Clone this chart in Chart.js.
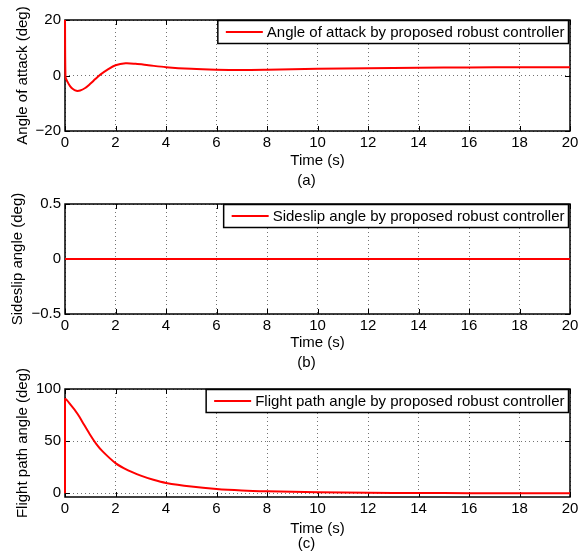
<!DOCTYPE html>
<html>
<head>
<meta charset="utf-8">
<script src="https://cdn.jsdelivr.net/npm/chart.js@4/dist/chart.umd.min.js"></script>
<style>
  html, body { margin: 0; padding: 0; background: #fff; }
  #wrap { position: relative; width: 588px; height: 553px; }
  canvas { position: absolute; left: 0; top: 0; }
</style>
</head>
<body>
<div id="wrap">
  <canvas id="cA" width="588" height="553"></canvas>
  <canvas id="cB" width="588" height="553"></canvas>
  <canvas id="cC" width="588" height="553"></canvas>
</div>
<script>
// Data
const timeTicks = [0, 2, 4, 6, 8, 10, 12, 14, 16, 18, 20];

const alphaTime = [0, 0.02, 0.1, 0.2, 0.3, 0.45, 0.6, 0.8, 1.0, 1.2, 1.4, 1.7, 2.0, 2.4, 2.8, 3.3, 4, 5, 6, 7, 8, 10, 12, 14, 16, 18, 20];
const alphaDeg  = [20, -0.5, -2.3, -3.8, -4.8, -5.5, -5.4, -4.5, -3.0, -1.3, 0.3, 2.2, 3.7, 4.4, 4.2, 3.7, 3.0, 2.4, 2.1, 2.0, 2.1, 2.4, 2.6, 2.8, 2.9, 3.0, 3.0];
const alphaTicks = [-20, 0, 20];

const betaTime = [0, 5, 10, 15, 20];
const betaDeg  = [0, 0, 0, 0, 0];
const betaTicks = [-0.5, 0, 0.5];

const gammaTime = [0, 0, 0.25, 0.5, 0.75, 1.0, 1.25, 1.5, 2.0, 2.5, 3, 3.5, 4, 5, 6, 7, 8, 10, 12, 14, 16, 18, 20];
const gammaDeg  = [0, 90, 84, 76, 66, 56, 47, 40, 29, 22, 17, 13, 10, 6.5, 4.2, 2.8, 2.0, 1.0, 0.5, 0.3, 0.2, 0.1, 0.1];
const gammaTicks = [0, 50, 100];

const FONT = "'Liberation Sans', Arial, Helvetica, sans-serif";

const fmt = v => String(v).replace('-', '\u2212');

// axes box, inward ticks, labels and a boxed legend (MATLAB look)
const matlabPlugin = {
    id: 'matlab',
    beforeDatasetsDraw(chart, args, o) {
        const { ctx, chartArea: a, scales } = chart;
        ctx.save();
        ctx.strokeStyle = '#000';
        ctx.lineWidth = 1.5;
        ctx.strokeRect(a.left, a.top, a.right - a.left, a.bottom - a.top);
        ctx.lineWidth = 1;
        ctx.beginPath();
        o.xTicks.forEach(v => {
            const x = Math.round(scales.x.getPixelForValue(v)) + 0.5;
            ctx.moveTo(x, a.bottom); ctx.lineTo(x, a.bottom - 5);
            ctx.moveTo(x, a.top); ctx.lineTo(x, a.top + 5);
        });
        o.yTicks.forEach(v => {
            const y = Math.round(scales.y.getPixelForValue(v)) + 0.5;
            ctx.moveTo(a.left, y); ctx.lineTo(a.left + 5, y);
            ctx.moveTo(a.right, y); ctx.lineTo(a.right - 5, y);
        });
        ctx.stroke();
        ctx.restore();
    },
    afterDatasetsDraw(chart, args, o) {
        const { ctx, chartArea: a } = chart;
        const ds = chart.data.datasets[0];
        ctx.save();
        ctx.font = '15px ' + FONT;
        const tw = ctx.measureText(ds.label).width;
        const w = 8 + 37 + 4 + tw + 4;
        const h = 23;
        const bx = a.right - 1.5 - w;
        const by = a.top + 0.5;
        ctx.fillStyle = '#fff';
        ctx.fillRect(bx, by, w, h);
        ctx.strokeStyle = '#000';
        ctx.lineWidth = 1.5;
        ctx.strokeRect(bx, by, w, h);
        ctx.strokeStyle = ds.borderColor;
        ctx.lineWidth = 2;
        ctx.beginPath();
        ctx.moveTo(bx + 8, by + h / 2);
        ctx.lineTo(bx + 45, by + h / 2);
        ctx.stroke();
        ctx.fillStyle = '#000';
        ctx.textBaseline = 'middle';
        ctx.fillText(ds.label, bx + 49, by + h / 2 + 0.5);

        // axis titles and caption
        const cx = (a.left + a.right) / 2;
        ctx.textAlign = 'center';
        ctx.fillText('Time (s)', cx, a.bottom + o.xTitleDy);
        ctx.fillText(o.caption, cx - 11, a.bottom + o.captionDy);
        ctx.translate(o.yTitleX, (a.top + a.bottom) / 2);
        ctx.rotate(-Math.PI / 2);
        ctx.fillText(o.yTitle, 0, 0);
        ctx.restore();
    }
};

function makePanel(id, cfg) {
    const xHeight = 30;
    return new Chart(document.getElementById(id), {
        type: 'line',
        data: {
            datasets: [{
                label: cfg.label,
                data: cfg.time.map((t, i) => ({ x: t, y: cfg.values[i] })),
                borderColor: '#ff0000',
                borderWidth: 2,
                pointRadius: 0,
                tension: 0.3,
                fill: false,
                clip: 3
            }]
        },
        options: {
            responsive: false,
            animation: false,
            layout: { padding: { left: 0, right: 18, top: cfg.top, bottom: 553 - cfg.bottom - xHeight } },
            scales: {
                x: {
                    type: 'linear', min: 0, max: 20,
                    afterBuildTicks: s => { s.ticks = timeTicks.map(v => ({ value: v })); },
                    afterFit: s => { s.height = xHeight; },
                    border: { display: false, dash: [1, 3] },
                    grid: { color: 'rgba(0,0,0,0.55)', lineWidth: 1, drawTicks: false },
                    ticks: { color: '#000', font: { size: 15, family: FONT }, padding: 3, maxRotation: 0, callback: fmt }
                },
                y: {
                    type: 'linear', min: cfg.yMin, max: cfg.yMax,
                    afterBuildTicks: s => { s.ticks = cfg.yTicks.map(v => ({ value: v })); },
                    afterFit: s => { s.width = 65; },
                    border: { display: false, dash: [1, 3] },
                    grid: { color: 'rgba(0,0,0,0.55)', lineWidth: 1, drawTicks: false },
                    ticks: { color: '#000', font: { size: 15, family: FONT }, padding: 4, callback: fmt }
                }
            },
            plugins: {
                legend: { display: false },
                tooltip: { enabled: false },
                matlab: {
                    xTicks: timeTicks, yTicks: cfg.yTicks,
                    yTitle: cfg.yTitle, yTitleX: cfg.yTitleX,
                    caption: cfg.caption, xTitleDy: cfg.xTitleDy, captionDy: cfg.captionDy
                }
            }
        },
        plugins: [matlabPlugin]
    });
}

makePanel('cA', {
    label: 'Angle of attack by proposed robust controller',
    time: alphaTime, values: alphaDeg, yTicks: alphaTicks, yMin: -20, yMax: 20,
    top: 20, bottom: 131, yTitle: 'Angle of attack (deg)', yTitleX: 23,
    caption: '(a)', xTitleDy: 30, captionDy: 50
});
makePanel('cB', {
    label: 'Sideslip angle by proposed robust controller',
    time: betaTime, values: betaDeg, yTicks: betaTicks, yMin: -0.5, yMax: 0.5,
    top: 204, bottom: 314, yTitle: 'Sideslip angle (deg)', yTitleX: 18,
    caption: '(b)', xTitleDy: 29, captionDy: 49
});
makePanel('cC', {
    label: 'Flight path angle by proposed robust controller',
    time: gammaTime, values: gammaDeg, yTicks: gammaTicks, yMin: -3.5, yMax: 100,
    top: 389, bottom: 497, yTitle: 'Flight path angle (deg)', yTitleX: 23,
    caption: '(c)', xTitleDy: 32, captionDy: 47
});
</script>
</body>
</html>
